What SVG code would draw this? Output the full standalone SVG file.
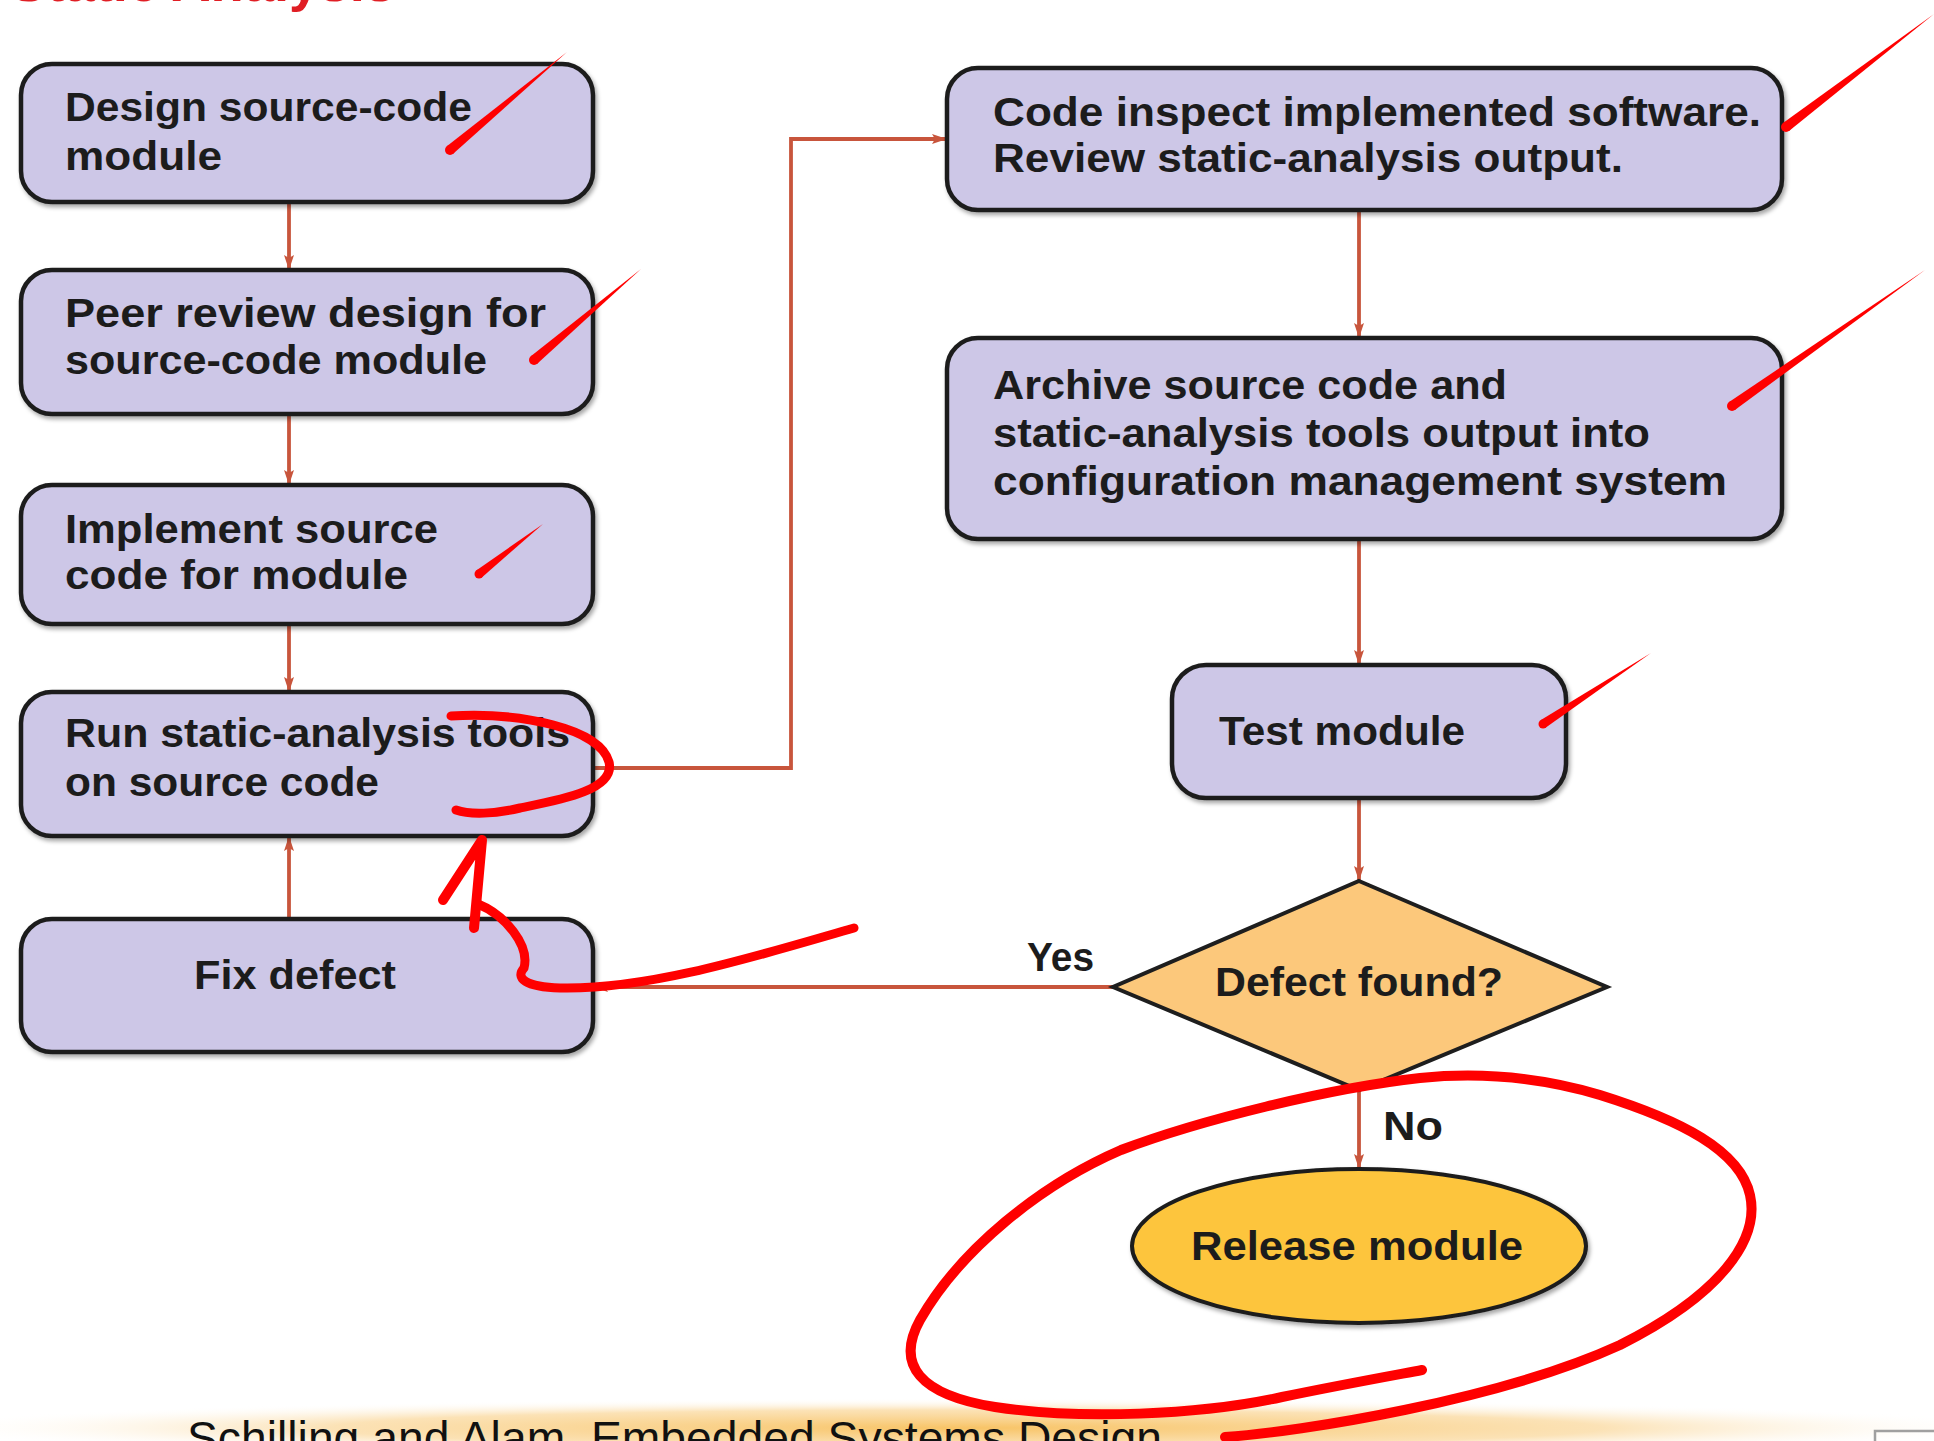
<svg xmlns="http://www.w3.org/2000/svg" width="1934" height="1441" viewBox="0 0 1934 1441">
<defs>
<style>
.box{fill:#cdc7e7;stroke:#1e1e1e;stroke-width:4.5}
.dia{fill:#fcc87b;stroke:#1e1e1e;stroke-width:4}
.ell{fill:#fdc53c;stroke:#1e1e1e;stroke-width:4}
.t{font-family:"Liberation Sans",Arial,sans-serif;font-weight:bold;font-size:41px;fill:#1c1c1c}
.edge{fill:none;stroke:#c8553c;stroke-width:3.8}
.red{fill:none;stroke:#ff0000;stroke-linecap:round;stroke-linejoin:round}
.chk{fill:#ff0000}
</style>
<marker id="ah" markerWidth="16" markerHeight="10" refX="15" refY="5" orient="auto" markerUnits="userSpaceOnUse">
<path d="M0,0 L15,5 L0,10 L3,5 z" fill="#c8553c"/>
</marker>
<filter id="sh" x="-5%" y="-5%" width="110%" height="115%">
<feDropShadow dx="2" dy="3" stdDeviation="2" flood-color="#000" flood-opacity="0.35"/>
</filter>
<radialGradient id="band" cx="0.5" cy="0.5" r="0.5">
<stop offset="0" stop-color="#f7bd55" stop-opacity="0.9"/>
<stop offset="0.6" stop-color="#f9cf85" stop-opacity="0.6"/>
<stop offset="1" stop-color="#ffffff" stop-opacity="0"/>
</radialGradient>
</defs>
<rect x="0" y="0" width="1934" height="1441" fill="#ffffff"/>

<text x="10" y="1" class="t" style="fill:#e01e24;font-size:54px" textLength="385" lengthAdjust="spacingAndGlyphs">Static Analysis</text>

<ellipse cx="967" cy="1428" rx="1060" ry="30" fill="url(#band)"/>
<text x="187" y="1454" style="font-family:'Liberation Sans',Arial,sans-serif;font-size:46px;fill:#111" textLength="975" lengthAdjust="spacingAndGlyphs">Schilling and Alam, Embedded Systems Design</text>
<path d="M1875,1441 L1875,1431 L1934,1431" fill="none" stroke="#a0a0a0" stroke-width="2.5"/>

<g id="connectors">
<path id="e1" class="edge" d="M289,202 L289,270" marker-end="url(#ah)"/>
<path id="e2" class="edge" d="M289,414 L289,485" marker-end="url(#ah)"/>
<path id="e3" class="edge" d="M289,624 L289,692" marker-end="url(#ah)"/>
<path id="e4" class="edge" d="M289,919 L289,836" marker-end="url(#ah)"/>
<path id="e5" class="edge" d="M593,768 L791,768 L791,139 L947,139" marker-end="url(#ah)"/>
<path id="e6" class="edge" d="M1359,210 L1359,338" marker-end="url(#ah)"/>
<path id="e7" class="edge" d="M1359,539 L1359,665" marker-end="url(#ah)"/>
<path id="e8" class="edge" d="M1359,798 L1359,881" marker-end="url(#ah)"/>
<path id="e9" class="edge" d="M1114,987 L593,987" marker-end="url(#ah)"/>
<path id="e10" class="edge" d="M1359,1090 L1359,1169" marker-end="url(#ah)"/>
<text x="1027" y="971" class="t" textLength="67" lengthAdjust="spacingAndGlyphs">Yes</text>
<text x="1383" y="1140" class="t" textLength="60" lengthAdjust="spacingAndGlyphs">No</text>
</g>

<g id="n1">
<rect class="box" filter="url(#sh)" x="21" y="64" width="572" height="138" rx="31"/>
<text x="65" y="121" class="t" textLength="407" lengthAdjust="spacingAndGlyphs">Design source-code</text>
<text x="65" y="170" class="t" textLength="157" lengthAdjust="spacingAndGlyphs">module</text>
</g>
<g id="n2">
<rect class="box" filter="url(#sh)" x="21" y="270" width="572" height="144" rx="31"/>
<text x="65" y="327" class="t" textLength="481" lengthAdjust="spacingAndGlyphs">Peer review design for</text>
<text x="65" y="374" class="t" textLength="422" lengthAdjust="spacingAndGlyphs">source-code module</text>
</g>
<g id="n3">
<rect class="box" filter="url(#sh)" x="21" y="485" width="572" height="139" rx="31"/>
<text x="65" y="543" class="t" textLength="373" lengthAdjust="spacingAndGlyphs">Implement source</text>
<text x="65" y="589" class="t" textLength="343" lengthAdjust="spacingAndGlyphs">code for module</text>
</g>
<g id="n4">
<rect class="box" filter="url(#sh)" x="21" y="692" width="572" height="144" rx="31"/>
<text x="65" y="747" class="t" textLength="505" lengthAdjust="spacingAndGlyphs">Run static-analysis tools</text>
<text x="65" y="796" class="t" textLength="314" lengthAdjust="spacingAndGlyphs">on source code</text>
</g>
<g id="n5">
<rect class="box" filter="url(#sh)" x="21" y="919" width="572" height="133" rx="31"/>
<text x="194" y="989" class="t" textLength="202" lengthAdjust="spacingAndGlyphs">Fix defect</text>
</g>
<g id="n6">
<rect class="box" filter="url(#sh)" x="947" y="68" width="835" height="142" rx="31"/>
<text x="993" y="126" class="t" textLength="768" lengthAdjust="spacingAndGlyphs">Code inspect implemented software.</text>
<text x="993" y="172" class="t" textLength="630" lengthAdjust="spacingAndGlyphs">Review static-analysis output.</text>
</g>
<g id="n7">
<rect class="box" filter="url(#sh)" x="947" y="338" width="835" height="201" rx="31"/>
<text x="993" y="399" class="t" textLength="514" lengthAdjust="spacingAndGlyphs">Archive source code and</text>
<text x="993" y="447" class="t" textLength="657" lengthAdjust="spacingAndGlyphs">static-analysis tools output into</text>
<text x="993" y="495" class="t" textLength="734" lengthAdjust="spacingAndGlyphs">configuration management system</text>
</g>
<g id="n8">
<rect class="box" filter="url(#sh)" x="1172" y="665" width="394" height="133" rx="34"/>
<text x="1219" y="745" class="t" textLength="246" lengthAdjust="spacingAndGlyphs">Test module</text>
</g>
<g id="n9">
<path class="dia" d="M1359,881 L1607,987 L1359,1090 L1113,987 Z"/>
<text x="1215" y="996" class="t" textLength="288" lengthAdjust="spacingAndGlyphs">Defect found?</text>
</g>
<g id="n10">
<ellipse class="ell" filter="url(#sh)" cx="1359" cy="1246" rx="227" ry="77"/>
<text x="1191" y="1260" class="t" textLength="332" lengthAdjust="spacingAndGlyphs">Release module</text>
</g>

<g id="annotations">
<path class="chk" d="M453.2,153.8 L567,52 L446.8,146.2 Z"/>
<circle class="chk" cx="450" cy="150" r="5"/>
<path class="chk" d="M537.2,363.8 L641,269 L530.8,356.2 Z"/>
<circle class="chk" cx="534" cy="360" r="5"/>
<path class="chk" d="M481.8,577.5 L543,524 L476.2,570.5 Z"/>
<circle class="chk" cx="479" cy="574" r="4.5"/>
<path class="chk" d="M1789,131 L1934,14 L1783,123 Z"/>
<circle class="chk" cx="1786" cy="127" r="5"/>
<path class="chk" d="M1734.9,410.1 L1925,270 L1729.1,401.9 Z"/>
<circle class="chk" cx="1732" cy="406" r="5"/>
<path class="chk" d="M1545.5,727.8 L1651,653 L1540.5,720.2 Z"/>
<circle class="chk" cx="1543" cy="724" r="4.5"/>
<path class="red" stroke-width="9" d="M451,716 C520,712 600,728 609,762 C616,790 560,800 520,808 C495,814 470,815 456,810"/>
<path class="red" stroke-width="9" d="M854,928 C760,955 650,990 560,988 C525,987 515,978 524,968 C530,945 505,915 478,904"/>
<path class="red" stroke-width="10" d="M474,928 L482,840 M482,840 L443,900"/>
<path class="red" stroke-width="10" d="M1225,1437 C1300,1432 1500,1400 1620,1345 C1720,1295 1760,1240 1750,1195 C1740,1150 1680,1120 1600,1095 C1540,1077 1480,1072 1420,1078 C1330,1088 1200,1120 1121,1150 C1040,1185 960,1250 920,1320 C895,1365 920,1395 995,1407 C1080,1420 1200,1415 1282,1397 C1340,1385 1390,1376 1422,1370"/>
</g>
</svg>
